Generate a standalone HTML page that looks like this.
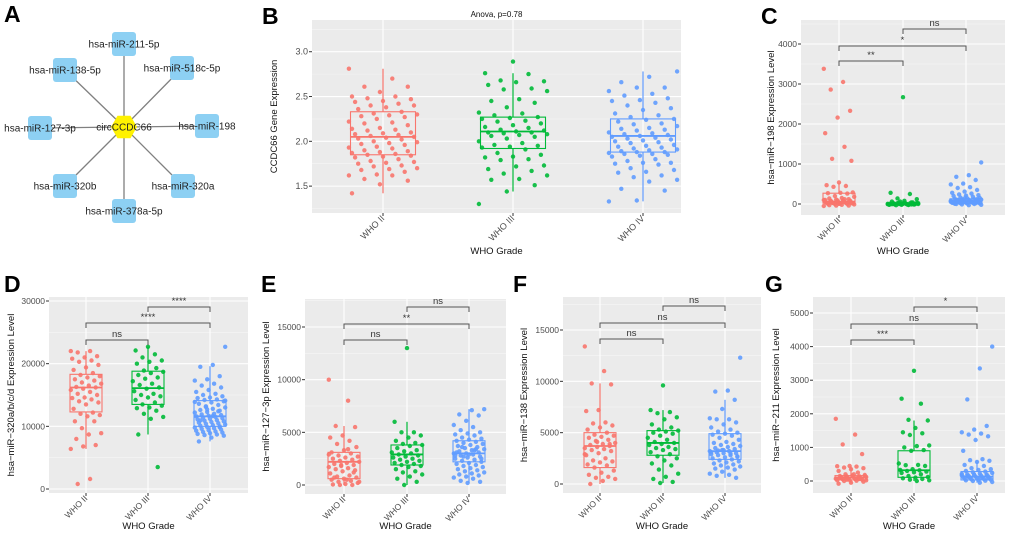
<!DOCTYPE html>
<html><head><meta charset="utf-8">
<style>
html,body{margin:0;padding:0;background:#fff;}
svg{display:block;font-family:"Liberation Sans",Arial,sans-serif;}
</style></head>
<body>
<svg id="fig" width="1020" height="536" viewBox="0 0 1020 536">
<g id="panelA"></g>
</svg>
<script>
// ---------------- DATA ----------------
const groups = ["WHO II","WHO III","WHO IV"];
const colors = ["#F8766D","#00BA38","#619CFF"];

const bII=[2.81,2.70,2.61,2.61,2.55,2.50,2.50,2.48,2.47,2.45,2.44,2.42,2.40,2.40,2.38,2.36,2.33,2.31,2.30,2.29,2.28,2.27,2.25,2.22,2.21,2.20,2.18,2.15,2.14,2.13,2.12,2.10,2.09,2.08,2.07,2.06,2.05,2.04,2.03,2.02,2.00,1.99,1.98,1.97,1.96,1.94,1.93,1.92,1.90,1.89,1.88,1.87,1.86,1.85,1.84,1.83,1.82,1.80,1.78,1.77,1.76,1.75,1.73,1.72,1.70,1.69,1.68,1.66,1.63,1.62,1.62,1.58,1.56,1.52,1.42];
const bIII=[2.89,2.76,2.75,2.68,2.67,2.66,2.63,2.59,2.58,2.56,2.47,2.45,2.43,2.38,2.32,2.31,2.29,2.27,2.26,2.25,2.23,2.22,2.20,2.18,2.16,2.15,2.13,2.12,2.11,2.10,2.10,2.09,2.08,2.07,2.06,2.05,2.03,2.00,1.98,1.96,1.95,1.94,1.93,1.91,1.87,1.85,1.83,1.82,1.80,1.79,1.73,1.72,1.69,1.67,1.64,1.62,1.58,1.57,1.51,1.44,1.30];
const bIV=[2.78,2.72,2.66,2.60,2.60,2.56,2.53,2.51,2.48,2.46,2.45,2.43,2.40,2.37,2.35,2.31,2.29,2.27,2.25,2.24,2.22,2.20,2.19,2.17,2.15,2.14,2.13,2.12,2.10,2.09,2.08,2.07,2.06,2.05,2.04,2.03,2.02,2.01,2.00,1.99,1.98,1.96,1.95,1.94,1.93,1.92,1.91,1.90,1.89,1.88,1.88,1.87,1.86,1.86,1.85,1.84,1.83,1.80,1.78,1.76,1.76,1.75,1.74,1.70,1.68,1.66,1.65,1.62,1.60,1.57,1.55,1.47,1.45,1.34,1.33];
const bBox=[[1.42,1.85,2.05,2.33,2.81],[1.44,1.92,2.11,2.27,2.76],[1.33,1.88,2.06,2.25,2.78]];

const cII=[3380,3050,2860,2330,2160,1770,1430,1130,1080,540,470,450,430,290,280,270,260,200,180,150,140,120,110,100,90,80,70,60,55,50,45,40,35,30,25,20,15,10,5,0,0,-10,-20,-30,-40,-40,-50,60,70,80,90,100,120,30,20,10];
const cIII=[2670,280,250,140,120,80,60,40,30,20,10,5,0,0,-5,-10,-10,-15,-20,-20,-25,-30,0,5,10,15,20,25,30,-5,-10,0,0,10,20,40,60,5,-5,0,3,8,-12,-18];
const cIV=[1040,720,680,600,510,490,420,400,350,310,280,260,240,220,210,200,180,160,150,140,130,120,115,110,100,95,90,85,80,75,70,65,60,55,50,45,40,35,30,25,20,15,10,5,0,-10,-20,-30,0,20,40,60,80,100,120,140,30,50,70,90];
const cBox=[[-50,20,60,270,530],[-30,-10,0,20,60],[-30,20,70,130,240]];

const dII=[22000,22000,21800,21200,21000,20800,20500,20300,19800,19400,19000,18500,18200,18000,17800,17500,17300,17000,16800,16500,16300,16200,16000,15800,15500,15200,15000,14600,14500,14300,14000,13800,13500,12800,12200,12000,11800,11600,10800,10800,9700,8900,8700,8000,7000,6800,6400,1600,800];
const dIII=[22700,22100,21500,21000,20500,20300,20000,19300,18900,18700,18500,18200,17800,17600,17200,16800,16600,16200,16000,15600,15200,15000,14800,14600,14200,13800,13500,13300,13000,12900,12500,12000,11500,11200,8700,3500];
const dIV=[22700,19800,19500,18000,17500,17300,16800,16500,16200,15800,15500,15200,15000,14800,14600,14500,14300,14200,14000,13800,13600,13400,13200,13000,12800,12600,12500,12300,12200,12000,11900,11800,11700,11600,11500,11400,11300,11200,11100,11000,10900,10800,10700,10600,10500,10400,10300,10200,10100,10000,9900,9800,9700,9600,9500,9400,9300,9200,9100,9000,8900,8800,8700,8600,8500,8200,7600,12400,13100,14100,11650,10950,9850,12700,13900];
const dBox=[[6400,12300,16200,18300,22000],[8700,13500,16100,18800,22700],[7600,10000,11600,14100,19600]];

const eII=[10000,8000,5600,5500,4700,4500,4200,3900,3600,3300,3100,3000,2800,2700,2600,2500,2400,2300,2200,2100,2000,1900,1800,1700,1600,1500,1400,1300,1100,900,800,700,600,500,400,300,200,100,50,0,0,300,500,700,1200,1900,2900,3400];
const eIII=[13000,6000,5000,5000,4700,4500,4200,4000,3900,3800,3700,3500,3300,3200,3100,3000,2900,2800,2700,2600,2500,2400,2300,2200,2100,2000,1900,1800,1700,1500,1300,1200,1000,800,600,300,0];
const eIV=[7200,7100,6700,6600,6100,5700,5500,5200,5000,4900,4800,4700,4500,4400,4300,4200,4100,4000,3900,3800,3700,3600,3500,3400,3300,3200,3100,3000,3000,2900,2800,2700,2600,2500,2400,2300,2200,2100,2000,1900,1800,1700,1600,1500,1400,1300,1200,1100,1000,900,800,700,600,400,300,200,2800,3300,3600,2500,2900,3100,3400,2700];
const eBox=[[0,600,2200,3100,5600],[0,1900,2900,3800,6000],[200,2200,3000,4200,7200]];

const fII=[13400,11000,9800,9700,7200,7100,6000,5900,5700,5500,5300,5000,4800,4700,4600,4500,4300,4200,4000,3900,3800,3700,3600,3500,3400,3300,3200,3000,2800,2500,2300,2200,2100,1900,1800,1600,1300,1100,900,700,600,500,300,0,3900,4100,2900];
const fIII=[9600,7200,7000,6900,6500,6300,5800,5500,5300,5200,5100,5000,4900,4700,4500,4300,4100,4000,3900,3800,3600,3500,3400,3300,3100,2900,2700,2500,2300,2000,1800,1400,1000,700,500,200,100];
const fIV=[12300,9100,9000,8200,7300,6400,6300,6300,6000,5800,5500,5300,5100,5000,4900,4800,4700,4500,4300,4100,4000,3900,3800,3700,3600,3500,3400,3300,3200,3200,3100,3000,3000,2900,2800,2800,2700,2600,2500,2400,2300,2200,2100,2000,1900,1800,1700,1600,1500,1400,1200,1000,900,800,600,3300,3100,2950,3250,2650];
const fBox=[[0,1600,3700,5000,9800],[100,2800,4000,5200,7200],[600,2400,3200,4900,8200]];

const gII=[1850,1380,1090,800,450,440,430,400,380,350,300,250,200,180,160,150,140,130,120,110,100,90,80,70,60,50,40,30,20,10,0,-20,-50,-80,100,120,140,160,80,60,40,20,200,90];
const gIII=[3280,2450,2300,1820,1800,1580,1450,1420,1370,1060,1040,1000,920,900,520,480,470,450,350,330,320,300,280,260,240,200,150,120,100,80,60,40,20,0];
const gIV=[4000,3350,2430,1640,1530,1450,1410,1380,1330,1220,900,650,620,600,570,480,450,380,350,330,300,280,260,240,220,200,190,180,170,160,150,140,130,120,110,100,90,80,70,60,50,40,30,20,10,0,-30,-50,150,170,190,210,100,120,80];
const gBox=[[-80,30,100,160,450],[0,110,320,900,1800],[-50,30,130,280,620]];

const bTicks=[1.5,2.0,2.5,3.0];
const cTicks=[0,1000,2000,3000,4000];
const dTicks=[0,10000,20000,30000];
const eTicks=[0,5000,10000,15000];
const fTicks=[0,5000,10000,15000];
const gTicks=[0,1000,2000,3000,4000,5000];

const cBrackets=[[0,1,3575,"**"],[0,2,3950,"*"],[1,2,4375,"ns"]];
const dBrackets=[[0,1,23775,"ns"],[0,2,26490,"****"],[1,2,29040,"****"]];
const eBrackets=[[0,1,13766,"ns"],[0,2,15285,"**"],[1,2,16900,"ns"]];
const fBrackets=[[0,1,14123,"ns"],[0,2,15682,"ns"],[1,2,17338,"ns"]];
const gBrackets=[[0,1,4196,"***"],[0,2,4673,"ns"],[1,2,5179,"*"]];

// ---------------- DRAW ----------------
const NS="http://www.w3.org/2000/svg";
const svg=document.getElementById('fig');
function el(tag,attrs,parent,txt){const e=document.createElementNS(NS,tag);for(const k in attrs)e.setAttribute(k,attrs[k]);if(txt!==undefined)e.textContent=txt;(parent||svg).appendChild(e);return e;}

// Panel A
const pA=document.getElementById('panelA');
const lab=el('text',{x:4,y:22,'font-size':23,'font-weight':'bold',fill:'#000'},pA,'A');


const center=[124,127];
const nodes=[["hsa-miR-211-5p",124,44],["hsa-miR-138-5p",65,70],["hsa-miR-518c-5p",182,68],["hsa-miR-127-3p",40,128],["hsa-miR-198",207,126],["hsa-miR-320b",65,186],["hsa-miR-320a",183,186],["hsa-miR-378a-5p",124,211]];
nodes.forEach(n=>{const l=el('line',{x1:center[0],y1:center[1],x2:n[1],y2:n[2],stroke:'#808080','stroke-width':1.3},pA);

});
nodes.forEach(n=>{const r=el('rect',{x:n[1]-12,y:n[2]-12,width:24,height:24,rx:3,fill:'#8DD0F3'},pA);


const t=el('text',{x:n[1],y:n[2]+3.5,'font-size':10,'text-anchor':'middle',fill:'#222'},pA,n[0]);

});
let hp=[];for(let i=0;i<6;i++){const a=Math.PI/3*i;hp.push((center[0]+13*Math.cos(a)).toFixed(1)+','+(center[1]+13*Math.sin(a)).toFixed(1));}
const hex=el('polygon',{points:hp.join(' '),fill:'#FFF200'},pA);


const ct=el('text',{x:center[0],y:center[1]+3.5,'font-size':10,'text-anchor':'middle',fill:'#222'},pA,'circCCDC66');



function fmt(v,dec){return dec?v.toFixed(1):String(v);}

function panel(cfg){
  const g=el('g',{});
  
  
  const {x0,x1,y0,y1,vmin,vmax,gx,bw}=cfg;
  const fs=cfg.fs||8.5;
  const ys=v=>y1-(v-vmin)/(vmax-vmin)*(y1-y0);
  const pl=el('text',{x:cfg.lx,y:cfg.ly,'font-size':23,'font-weight':'bold',fill:'#000'},g,cfg.label);
  
  
  const bg=el('rect',{x:x0,y:y0,width:x1-x0,height:y1-y0,fill:'#EBEBEB'},g);
  
  
  const tk=cfg.ticks;const step=tk[1]-tk[0];
  for(let i=-1;i<tk.length;i++){const m=tk[0]+step*(i+0.5);const y=ys(m);if(y>y0&&y<y1)el('line',{x1:x0,x2:x1,y1:y,y2:y,stroke:'#F5F5F5','stroke-width':0.6},g);}
  tk.forEach(t=>{const y=ys(t);
    const gl=el('line',{x1:x0,x2:x1,y1:y,y2:y,stroke:'#fff','stroke-width':1.1},g);
    
    
    el('line',{x1:x0-3,x2:x0,y1:y,y2:y,stroke:'#333','stroke-width':1},g);
    const tl=el('text',{x:x0-4,y:y+3,'font-size':fs,'text-anchor':'end',fill:'#4D4D4D'},g,fmt(t,cfg.dec));
    
    });
  gx.forEach((x,i)=>{el('line',{x1:x,x2:x,y1:y0,y2:y1,stroke:'#fff','stroke-width':1.1},g);
    el('line',{x1:x,x2:x,y1:y1,y2:y1+3,stroke:'#333','stroke-width':1},g);
    const xl=el('text',{x:x+2,y:y1+6,'font-size':fs,'text-anchor':'end',fill:'#4D4D4D',transform:`rotate(-45 ${x+2} ${y1+6})`},g,groups[i]);
    
    });
  cfg.box.forEach((b,i)=>{const x=gx[i],c=colors[i];
    const bg2=el('g',{},g);
    
    
    el('line',{x1:x,x2:x,y1:ys(b[0]),y2:ys(b[1]),stroke:c,'stroke-width':1.2},bg2);
    el('line',{x1:x,x2:x,y1:ys(b[3]),y2:ys(b[4]),stroke:c,'stroke-width':1.2},bg2);
    el('rect',{x:x-bw/2,y:ys(b[3]),width:bw,height:Math.max(0.5,ys(b[1])-ys(b[3])),fill:'none',stroke:c,'stroke-width':1.1},bg2);
    el('line',{x1:x-bw/2,x2:x+bw/2,y1:ys(b[2]),y2:ys(b[2]),stroke:c,'stroke-width':1.8},bg2);
  });
  cfg.pts.forEach((arr,i)=>{const x=gx[i],c=colors[i];
    arr.forEach((v,j)=>{const off=(((j*37+i*11)%23)/22-0.5)*bw*(cfg.jit||0.95);
      const p=el('circle',{cx:(x+off).toFixed(1),cy:ys(v).toFixed(1),r:2.2,fill:c,'fill-opacity':0.9},g);
      
      });});
  (cfg.brackets||[]).forEach(b=>{const xa=gx[b[0]],xb=gx[b[1]],y=ys(b[2]);
    el('path',{d:`M${xa},${y+5}V${y}H${xb}V${y+5}`,fill:'none',stroke:'#555','stroke-width':1},g);
    const bt=el('text',{x:(xa+xb)/2,y:y-3,'font-size':9.5,'text-anchor':'middle',fill:'#333'},g,b[3]);
    
    });
  const yt=el('text',{x:cfg.ytx,y:(y0+y1)/2,'font-size':9.5,'text-anchor':'middle',fill:'#111',transform:`rotate(-90 ${cfg.ytx} ${(y0+y1)/2})`},g,cfg.ytitle);
  
  
  const xt=el('text',{x:(x0+x1)/2,y:cfg.xty,'font-size':9.5,'text-anchor':'middle',fill:'#111'},g,'WHO Grade');
  
  
  if(cfg.title){const tt=el('text',{x:(x0+x1)/2,y:17,'font-size':8,'text-anchor':'middle',fill:'#111'},g,cfg.title);
    
    }
}

panel({name:'panel-b',label:'B',lx:262,ly:24,x0:312,x1:681,y0:20,y1:213,vmin:1.20,vmax:3.354,gx:[383,513,643],bw:65,jit:1.05,ticks:bTicks,dec:true,box:bBox,pts:[bII,bIII,bIV],ytitle:'CCDC66 Gene Expression',ytx:277,xty:254,title:'Anova, p=0.78',fs:9});
panel({name:'panel-c',label:'C',lx:761,ly:24,x0:801,x1:1005,y0:20,y1:215,vmin:-275,vmax:4600,gx:[839,903,966],bw:32,ticks:cTicks,box:cBox,pts:[cII,cIII,cIV],brackets:cBrackets,ytitle:'hsa−miR−198 Expression Level',ytx:774,xty:254});
panel({name:'panel-d',label:'D',lx:4,ly:292,x0:49,x1:248,y0:297,y1:493,vmin:-638,vmax:30640,gx:[86,148,210],bw:32,ticks:dTicks,box:dBox,pts:[dII,dIII,dIV],brackets:dBrackets,ytitle:'hsa−miR−320a/b/c/d Expression Level',ytx:14,xty:529});
panel({name:'panel-e',label:'E',lx:261,ly:292,x0:305,x1:506,y0:299,y1:494,vmin:-854,vmax:17659,gx:[344,407,469],bw:32,ticks:eTicks,box:eBox,pts:[eII,eIII,eIV],brackets:eBrackets,ytitle:'hsa−miR−127−3p Expression Level',ytx:269,xty:529});
panel({name:'panel-f',label:'F',lx:513,ly:292,x0:563,x1:761,y0:297,y1:493,vmin:-877,vmax:18214,gx:[600,663,725],bw:32,ticks:fTicks,box:fBox,pts:[fII,fIII,fIV],brackets:fBrackets,ytitle:'hsa−miR−138 Expression Level',ytx:527,xty:529});
panel({name:'panel-g',label:'G',lx:765,ly:292,x0:813,x1:1005,y0:297,y1:493,vmin:-357,vmax:5476,gx:[851,914,977],bw:32,ticks:gTicks,box:gBox,pts:[gII,gIII,gIV],brackets:gBrackets,ytitle:'hsa−miR−211 Expression Level',ytx:779,xty:529});
</script>
</body></html>
